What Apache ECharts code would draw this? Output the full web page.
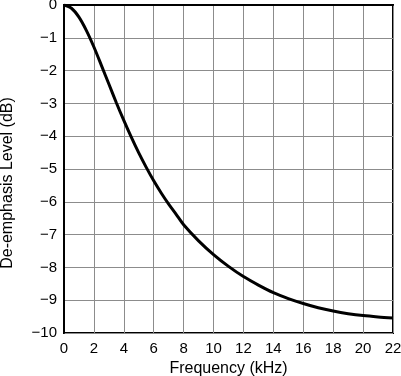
<!DOCTYPE html>
<html>
<head>
<meta charset="utf-8">
<script src="https://cdn.jsdelivr.net/npm/echarts@6/dist/echarts.min.js"></script>
<style>html,body{margin:0;padding:0;background:#fff;}#c{width:401px;height:376px;}</style>
</head>
<body>
<div id="c"></div>
<script>
var freqKHz = [0,0.5,1,1.5,2,2.5,3,3.5,4,4.5,5,5.5,6,6.5,7,7.5,8,9,10,11,12,13,14,15,16,17,18,19,20,21,22];
var levelDb = [0,-0.1,-0.37,-0.78,-1.28,-1.84,-2.41,-2.98,-3.52,-4.03,-4.51,-4.95,-5.36,-5.73,-6.07,-6.38,-6.7,-7.19,-7.61,-7.97,-8.28,-8.54,-8.77,-8.95,-9.1,-9.23,-9.33,-9.41,-9.47,-9.51,-9.54];
var xTitle = 'Frequency (kHz)';
var yTitle = 'De-emphasis Level (dB)';

var pts = freqKHz.map(function(f,i){return [f, levelDb[i]];});
var font = 'Liberation Sans, Arial, sans-serif';
var chart = echarts.init(document.getElementById('c'), null, {renderer:'canvas'});
chart.setOption({
  animation:false,
  grid:{left:64, right:8, top:5, bottom:43, outerBoundsMode:'none', containLabel:false,
        show:true, borderColor:'#000', borderWidth:2, backgroundColor:'transparent'},
  xAxis:{
    type:'value', min:0, max:22, interval:2,
    name:xTitle, nameLocation:'middle', nameGap:28,
    nameTextStyle:{color:'#000', fontSize:16, fontFamily:font},
    axisLine:{show:true, lineStyle:{color:'#000', width:2}},
    axisTick:{show:false},
    axisLabel:{color:'#000', fontSize:15, fontFamily:font, margin:8},
    splitLine:{show:true, lineStyle:{color:'#8c8c8c', width:1}}
  },
  yAxis:{
    type:'value', min:-10, max:0, interval:1,
    name:yTitle, nameLocation:'middle', nameGap:48, nameRotate:90,
    nameTextStyle:{color:'#000', fontSize:16, fontFamily:font, padding:[0,28,0,0]},
    axisLine:{show:true, lineStyle:{color:'#000', width:2}},
    axisTick:{show:false},
    axisLabel:{color:'#000', fontSize:15, fontFamily:font, margin:7,
      formatter:function(v){return String(v).replace('-', '\u2212');}},
    splitLine:{show:true, lineStyle:{color:'#8c8c8c', width:1}}
  },
  series:[{
    type:'line', data:pts, smooth:0.3, symbol:'none',
    lineStyle:{color:'#000', width:3}
  }]
});
</script>
</body>
</html>
